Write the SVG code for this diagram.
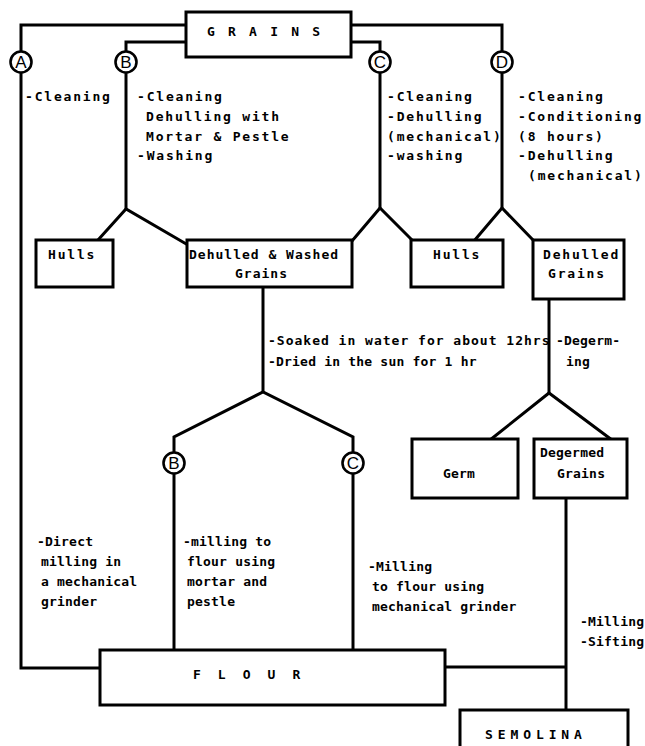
<svg xmlns="http://www.w3.org/2000/svg" width="645" height="746" viewBox="0 0 645 746">
  <style>
    .box { fill: #fff; stroke: #000; stroke-width: 3; }
    .ln { fill: none; stroke: #000; stroke-width: 3; stroke-linejoin: miter; }
    .ring { fill: #fff; stroke: #000; stroke-width: 2.6; }
    .lbl { font-family: "Liberation Sans", Arial, sans-serif; font-weight: normal; font-size: 17px; text-anchor: middle; fill: #000; letter-spacing: 0; }
    text { font-family: "DejaVu Sans Mono", "Liberation Mono", monospace; font-weight: bold; font-size: 13px; fill: #000; }
    .w { letter-spacing: 1.8px; }
    .m { letter-spacing: 1.0px; }
    .n { letter-spacing: 0.2px; }
    .ttl { letter-spacing: 2.7px; }
  </style>
  <rect width="645" height="746" fill="#fff"/>

  <!-- connectors -->
  <g id="connectors">
    <!-- route A: direct milling -->
    <path class="ln" d="M186,25 H21 V52"/>
    <path class="ln" d="M21,72 V668 H100"/>
    <!-- route B -->
    <path class="ln" d="M186,42 H126 V52"/>
    <path class="ln" d="M126,72 V209"/>
    <path class="ln" d="M98,240 L126,209 L188,245"/>
    <!-- route C -->
    <path class="ln" d="M351,42 H380 V52"/>
    <path class="ln" d="M380,72 V208"/>
    <path class="ln" d="M352,241 L380,208 L413,241"/>
    <!-- route D -->
    <path class="ln" d="M351,25 H502 V52"/>
    <path class="ln" d="M502,72 V208"/>
    <path class="ln" d="M474,241 L502,208 L534,241"/>
    <!-- dehulled & washed grains to milling -->
    <path class="ln" d="M263,287 V392"/>
    <path class="ln" d="M174,453 V437 L263,392 L353,437 V453"/>
    <path class="ln" d="M174,473 V650"/>
    <path class="ln" d="M353,473 V650"/>
    <!-- dehulled grains to degerming -->
    <path class="ln" d="M549,299 V393"/>
    <path class="ln" d="M490,440 L549,393 L612,440"/>
    <!-- degermed grains to semolina -->
    <path class="ln" d="M566,498 V710"/>
    <path class="ln" d="M445,667 H566"/>
  </g>

  <!-- route markers -->
  <g id="marker-a"><circle class="ring" cx="21" cy="62" r="10.5"/><text class="lbl" x="21" y="68">A</text></g>
  <g id="marker-b"><circle class="ring" cx="126" cy="62" r="10.5"/><text class="lbl" x="126" y="68">B</text></g>
  <g id="marker-c"><circle class="ring" cx="380" cy="62" r="10.5"/><text class="lbl" x="380" y="68">C</text></g>
  <g id="marker-d"><circle class="ring" cx="502" cy="62" r="10.5"/><text class="lbl" x="502" y="68">D</text></g>
  <g id="marker-b2"><circle class="ring" cx="174" cy="463" r="10.5"/><text class="lbl" x="174" y="469">B</text></g>
  <g id="marker-c2"><circle class="ring" cx="353" cy="463" r="10.5"/><text class="lbl" x="353" y="469">C</text></g>

  <!-- nodes -->
  <g id="grains">
    <rect class="box" x="186" y="12" width="165" height="45"/>
    <text class="ttl" x="207" y="36">G R A I N S</text>
  </g>
  <g id="hulls-1">
    <rect class="box" x="36" y="240" width="77" height="47"/>
    <text class="w" x="48" y="259">Hulls</text>
  </g>
  <g id="dehulled-washed">
    <rect class="box" x="187" y="240" width="165" height="47"/>
    <text class="m" x="189" y="259">Dehulled &amp; Washed</text>
    <text class="m" x="235" y="278">Grains</text>
  </g>
  <g id="hulls-2">
    <rect class="box" x="411" y="240" width="92" height="47"/>
    <text class="w" x="433" y="259">Hulls</text>
  </g>
  <g id="dehulled-grains">
    <rect class="box" x="533" y="240" width="91" height="59"/>
    <text class="w" x="543" y="259">Dehulled</text>
    <text class="w" x="548" y="278">Grains</text>
  </g>
  <g id="germ">
    <rect class="box" x="412" y="439" width="106" height="59"/>
    <text class="n" x="443" y="478">Germ</text>
  </g>
  <g id="degermed-grains">
    <rect class="box" x="534" y="439" width="93" height="59"/>
    <text class="n" x="540" y="457">Degermed</text>
    <text class="n" x="557" y="478">Grains</text>
  </g>
  <g id="flour">
    <rect class="box" x="100" y="650" width="345" height="55"/>
    <text x="193" y="679" style="letter-spacing:4.6px">F L O U R</text>
  </g>
  <g id="semolina">
    <rect class="box" x="460" y="710" width="168" height="50"/>
    <text x="485" y="739" style="letter-spacing:4.9px">SEMOLINA</text>
  </g>

  <!-- process notes -->
  <g id="notes">
    <text class="w" x="25" y="101">-Cleaning</text>

    <text class="w" x="137" y="101">-Cleaning</text>
    <text class="w" x="146" y="121">Dehulling with</text>
    <text class="w" x="146" y="141">Mortar &amp; Pestle</text>
    <text class="w" x="137" y="160">-Washing</text>

    <text class="w" x="387" y="101">-Cleaning</text>
    <text class="w" x="387" y="121">-Dehulling</text>
    <text class="w" x="387" y="141">(mechanical)</text>
    <text class="w" x="387" y="160">-washing</text>

    <text class="w" x="518" y="101">-Cleaning</text>
    <text class="w" x="518" y="121">-Conditioning</text>
    <text class="w" x="518" y="141">(8 hours)</text>
    <text class="w" x="518" y="160">-Dehulling</text>
    <text class="w" x="528" y="180">(mechanical)</text>

    <text class="m" x="268" y="345">-Soaked in water for about 12hrs</text>
    <text class="n" x="268" y="366">-Dried in the sun for 1 hr</text>
    <text class="n" x="556" y="345">-Degerm-</text>
    <text class="n" x="566" y="366">ing</text>

    <text class="n" x="37" y="546">-Direct</text>
    <text class="n" x="41" y="566">milling in</text>
    <text class="n" x="41" y="586">a mechanical</text>
    <text class="n" x="41" y="606">grinder</text>

    <text class="n" x="183" y="546">-milling to</text>
    <text class="n" x="187" y="566">flour using</text>
    <text class="n" x="187" y="586">mortar and</text>
    <text class="n" x="187" y="606">pestle</text>

    <text class="n" x="368" y="571">-Milling</text>
    <text class="n" x="372" y="591">to flour using</text>
    <text class="n" x="372" y="611">mechanical grinder</text>

    <text class="n" x="580" y="626">-Milling</text>
    <text class="n" x="580" y="646">-Sifting</text>
  </g>
</svg>
